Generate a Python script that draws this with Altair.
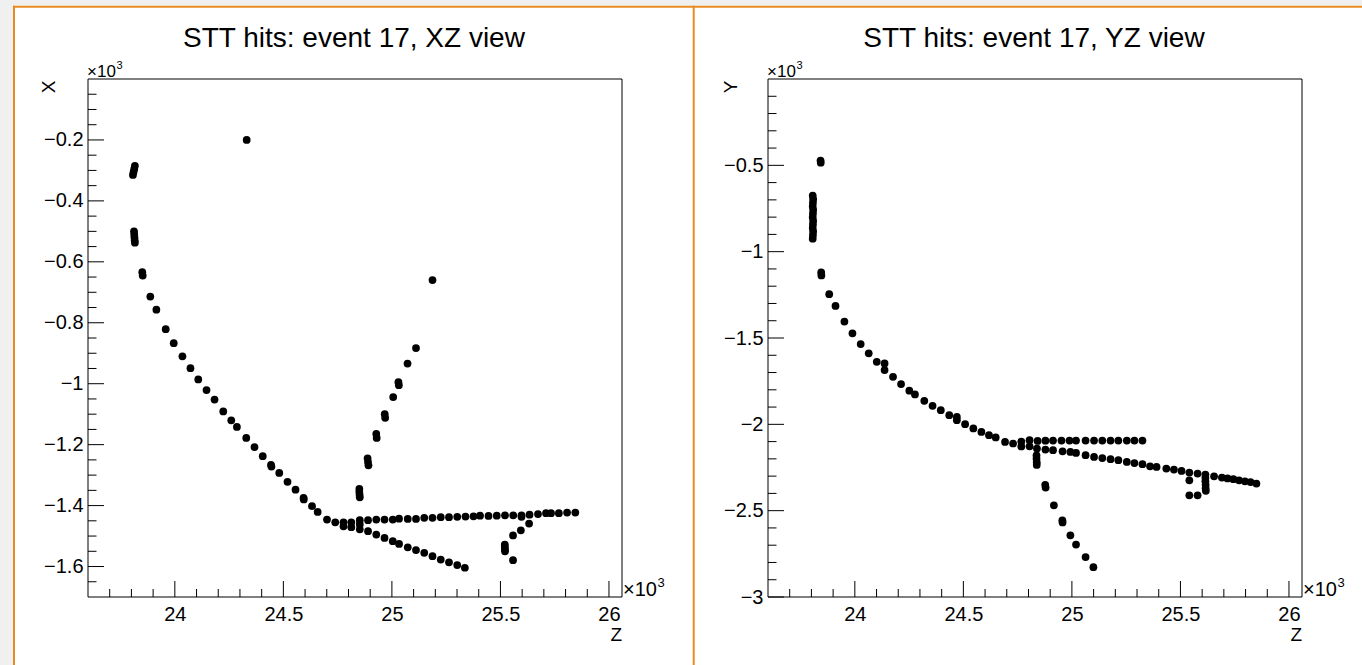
import altair as alt
import pandas as pd
import numpy as np

# ---------------- data (Z and X/Y in units of 10^3) ----------------
# XZ view
xz_curve_z = [23.816, 23.813, 23.810, 23.807, 23.812, 23.813, 23.814, 23.815, 23.816,
              23.850, 23.852, 23.887, 23.915, 23.958, 23.995, 24.035, 24.072, 24.108,
              24.146, 24.183, 24.223, 24.260, 24.286, 24.329, 24.367, 24.405, 24.443,
              24.445, 24.481, 24.519, 24.556, 24.593, 24.594, 24.632, 24.658, 24.701,
              24.739, 24.777, 24.777, 24.813, 24.813, 24.852, 24.852, 24.852]
xz_curve_x = [-0.285, -0.295, -0.305, -0.315, -0.500, -0.510, -0.520, -0.530, -0.537,
              -0.634, -0.645, -0.714, -0.757, -0.821, -0.867, -0.910, -0.949, -0.986,
              -1.021, -1.052, -1.091, -1.120, -1.142, -1.178, -1.208, -1.238, -1.266,
              -1.272, -1.293, -1.322, -1.348, -1.375, -1.380, -1.402, -1.421, -1.446,
              -1.455, -1.455, -1.468, -1.455, -1.471, -1.448, -1.462, -1.478]
xz_flat_z = [24.890, 24.928, 24.966, 25.004, 25.033, 25.073, 25.111, 25.149, 25.187,
             25.225, 25.263, 25.301, 25.339, 25.376, 25.406, 25.445, 25.483, 25.521,
             25.559, 25.597, 25.597, 25.634, 25.673, 25.710, 25.733, 25.769, 25.807, 25.845]
xz_flat_x = [-1.448, -1.446, -1.446, -1.446, -1.443, -1.444, -1.444, -1.440, -1.440,
             -1.438, -1.438, -1.437, -1.436, -1.435, -1.433, -1.434, -1.433, -1.432,
             -1.432, -1.432, -1.437, -1.430, -1.428, -1.425, -1.425, -1.425, -1.423, -1.423]
xz_low_z = [24.890, 24.928, 24.966, 25.004, 25.033, 25.073, 25.111, 25.149, 25.187,
            25.225, 25.263, 25.301, 25.336]
xz_low_x = [-1.484, -1.495, -1.506, -1.517, -1.526, -1.537, -1.546, -1.555, -1.566,
            -1.577, -1.586, -1.595, -1.604]
xz_rise_z = [24.850, 24.850, 24.851, 24.852, 24.888, 24.890, 24.892, 24.928, 24.930,
             24.967, 24.969, 25.006, 25.030, 25.032, 25.072, 25.111]
xz_rise_x = [-1.345, -1.355, -1.365, -1.373, -1.245, -1.257, -1.268, -1.165, -1.178,
             -1.100, -1.112, -1.044, -0.995, -1.005, -0.934, -0.883]
xz_other_z = [24.331, 25.187, 25.520, 25.520, 25.521, 25.521, 25.558, 25.594, 25.632, 25.558]
xz_other_x = [-0.200, -0.660, -1.528, -1.535, -1.543, -1.550, -1.498, -1.481, -1.459, -1.579]

# YZ view
yz_curve_z = [23.842, 23.843,
              23.806, 23.808, 23.807, 23.806, 23.808, 23.807, 23.806, 23.808, 23.807,
              23.806, 23.808, 23.807, 23.806,
              23.845, 23.846, 23.882, 23.911, 23.952, 23.989, 24.027, 24.064, 24.101,
              24.137, 24.137, 24.176, 24.213, 24.251, 24.277, 24.320, 24.358, 24.396,
              24.435, 24.470, 24.470, 24.508, 24.546, 24.583, 24.618, 24.649, 24.692,
              24.729, 24.767, 24.767, 24.805, 24.805]
yz_curve_y = [-0.472, -0.485,
              -0.675, -0.696, -0.717, -0.738, -0.758, -0.779, -0.800, -0.821, -0.842,
              -0.863, -0.883, -0.904, -0.925,
              -1.120, -1.138, -1.246, -1.314, -1.405, -1.473, -1.535, -1.589, -1.638,
              -1.647, -1.686, -1.725, -1.767, -1.805, -1.827, -1.864, -1.893, -1.918,
              -1.947, -1.957, -1.976, -1.999, -2.024, -2.044, -2.063, -2.076, -2.102,
              -2.111, -2.100, -2.128, -2.092, -2.127]
yz_top_z = [24.842, 24.878, 24.913, 24.952, 24.989, 25.019, 25.063, 25.102, 25.140,
            25.178, 25.214, 25.253, 25.288, 25.325]
yz_top_y = [-2.096, -2.095, -2.094, -2.094, -2.094, -2.094, -2.094, -2.094, -2.094,
            -2.094, -2.094, -2.094, -2.094, -2.094]
yz_low_z = [24.839, 24.878, 24.913, 24.957, 24.993, 25.019, 25.063, 25.102, 25.140,
            25.178, 25.214, 25.253, 25.288, 25.325, 25.360, 25.390, 25.435, 25.470,
            25.505, 25.541, 25.579, 25.615, 25.655, 25.691, 25.717, 25.744, 25.770,
            25.797, 25.823, 25.850]
yz_low_y = [-2.140, -2.146, -2.150, -2.156, -2.160, -2.166, -2.179, -2.189, -2.195,
            -2.202, -2.208, -2.218, -2.224, -2.231, -2.243, -2.247, -2.256, -2.262,
            -2.270, -2.279, -2.285, -2.291, -2.301, -2.308, -2.313, -2.318, -2.324,
            -2.330, -2.334, -2.343]
yz_desc_z = [24.837, 24.837, 24.838, 24.838, 24.877, 24.879, 24.917, 24.956, 24.957,
             24.993, 25.019, 25.063, 25.099]
yz_desc_y = [-2.180, -2.200, -2.220, -2.235, -2.350, -2.366, -2.469, -2.556, -2.568,
             -2.643, -2.696, -2.769, -2.827]
yz_other_z = [25.541, 25.541, 25.579, 25.615, 25.615, 25.616, 25.616, 25.617]
yz_other_y = [-2.324, -2.411, -2.411, -2.310, -2.330, -2.350, -2.370, -2.385]

# axis tick values / labels
x_major = [24, 24.5, 25, 25.5, 26]
xz_y_major = [-1.6, -1.4, -1.2, -1.0, -0.8, -0.6, -0.4, -0.2]
yz_y_major = [-3.0, -2.5, -2.0, -1.5, -1.0, -0.5]
x_minor = [v for v in np.round(np.arange(23.7, 26.0, 0.1), 2) if round(v * 2, 6) % 1 != 0]
xz_y_minor = [v for v in np.round(np.arange(-1.65, -0.01, 0.05), 2) if abs(round(v * 5) - v * 5) > 1e-6]
yz_y_minor = [v for v in np.round(np.arange(-2.9, -0.05, 0.1), 2) if abs(round(v * 2) - v * 2) > 1e-6]

titles = ["STT hits: event 17, XZ view", "STT hits: event 17, YZ view"]

# ---------------- layout constants ----------------
FONT = "Liberation Sans"
W, H = 534, 518
OXL, OXR, OY = 88, 768, 79
XDOM = [23.6, 26.06]
ORANGE = "#ea8a22"
GRAY = "#f0f0f0"
ONE = pd.DataFrame({"a": [0]})


def deco(x, x2, y, y2, **kw):
    return alt.Chart(ONE).mark_rect(**kw).encode(
        x=alt.value(x), x2=alt.value(x2), y=alt.value(y), y2=alt.value(y2))


def txt(text, x, y, size, **kw):
    return alt.Chart(ONE).mark_text(text=text, font=FONT, fontSize=size, color="black", **kw).encode(
        x=alt.value(x), y=alt.value(y))


def panel(zs, vs, ydom, y_major, y_minor, title, ytitle, ox, extra):
    df = pd.DataFrame({"z": zs, "v": vs})
    xs = alt.Scale(domain=XDOM, nice=False, zero=False)
    ys = alt.Scale(domain=ydom, nice=False, zero=False)
    common = dict(ticks=False, domain=False, grid=False, labelFont=FONT, labelFontSize=20,
                  labelColor="black", labelFlush=False, labelOverlap=False, title=None, zindex=1,
                  tickSize=0)
    xax = alt.Axis(values=x_major, format="~g", labelPadding=7, **common)
    yax = alt.Axis(values=y_major, format="~g", labelPadding=5, **common)

    pts = alt.Chart(df).mark_circle(size=60, color="black", opacity=1).encode(
        x=alt.X("z:Q", scale=xs, axis=xax), y=alt.Y("v:Q", scale=ys, axis=yax))

    def xt(vals, ln):
        return alt.Chart(pd.DataFrame({"t": vals})).mark_rule(color="black", strokeWidth=1).encode(
            x=alt.X("t:Q", scale=xs, axis=xax), y=alt.value(H), y2=alt.value(H - ln))

    def yt(vals, ln):
        return alt.Chart(pd.DataFrame({"t": vals})).mark_rule(color="black", strokeWidth=1).encode(
            y=alt.Y("t:Q", scale=ys, axis=yax), x=alt.value(0), x2=alt.value(ln))

    frame = deco(0, W, 0, H, fillOpacity=0, stroke="black", strokeWidth=1)
    texts = [
        txt(title, 266, -32, 28, align="center", baseline="alphabetic"),
        txt(ytitle, (49 if ox == OXL else 731) - ox, 8, 19, angle=270, align="center", baseline="middle"),
        txt("×10", -1, -2, 17, align="left", baseline="alphabetic"),
        txt("3", 28.5, -10, 11, align="left", baseline="alphabetic"),
        txt("×10", W + 1, H - 1, 20, align="left", baseline="alphabetic"),
        txt("3", W + 35.5, H - 10, 13, align="left", baseline="alphabetic"),
        txt("Z", W, 562, 19, align="right", baseline="alphabetic"),
    ]
    layers = extra + [frame, xt(x_minor, 8), xt(x_major, 16), yt(y_minor, 8.5), yt(y_major, 16), pts] + texts
    return alt.layer(*layers).properties(width=W, height=H)


# page decorations (in left-panel coordinates)
bg = [
    deco(-OXL, 1362 - OXL, -OY, 665 - OY, fill=GRAY, opacity=1),
    deco(13 - OXL, 1362 - OXL, 5.7 - OY, 665 - OY, fill="white"),
    deco(13 - OXL, 1362 - OXL, 5.7 - OY, 7.7 - OY, fill=ORANGE),
    deco(13 - OXL, 15 - OXL, 5.7 - OY, 665 - OY, fill=ORANGE),
    deco(692.7 - OXL, 694.7 - OXL, 5.7 - OY, 665 - OY, fill=ORANGE),
]

left = panel(xz_curve_z + xz_flat_z + xz_low_z + xz_rise_z + xz_other_z,
             xz_curve_x + xz_flat_x + xz_low_x + xz_rise_x + xz_other_x,
             [-1.7, 0.0], xz_y_major, xz_y_minor, titles[0], "X", OXL, bg)
right = panel(yz_curve_z + yz_top_z + yz_low_z + yz_desc_z + yz_other_z,
              yz_curve_y + yz_top_y + yz_low_y + yz_desc_y + yz_other_y,
              [-3.0, 0.0], yz_y_major, yz_y_minor, titles[1], "Y", OXR, [])

chart = alt.hconcat(left, right, spacing=OXR - OXL - W, bounds="flush").properties(
    padding=0, background=GRAY
).configure_view(strokeWidth=0)

chart.save("out.html", embed_options={"renderer": "svg", "actions": False})
